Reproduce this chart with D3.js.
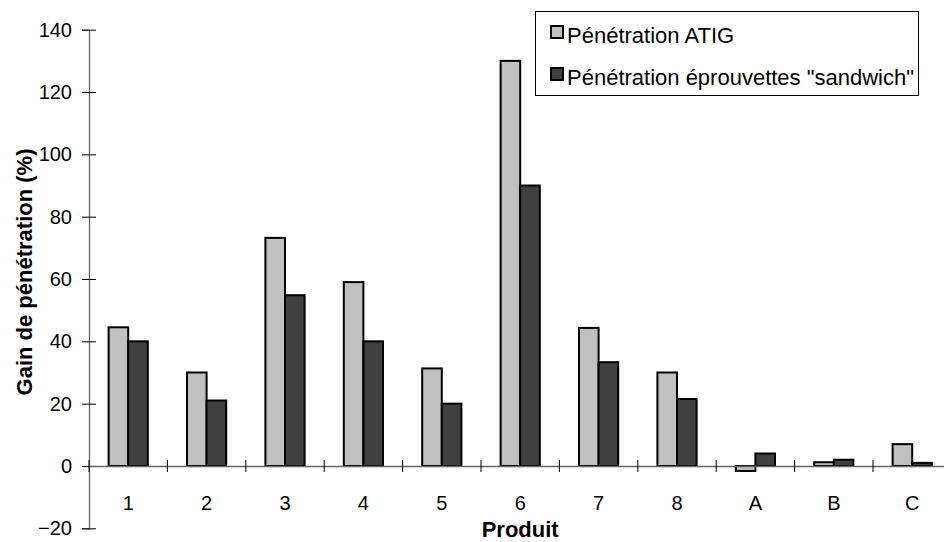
<!DOCTYPE html>
<html>
<head>
<meta charset="utf-8">
<script src="https://cdn.jsdelivr.net/npm/d3@7"></script>
<style>
  html, body { margin: 0; padding: 0; background: #fff; }
  svg { display: block; font-family: "Liberation Sans", Arial, sans-serif; }
</style>
</head>
<body>
<svg id="chart" width="944" height="542"></svg>
<script>
// Produits testés et gains de pénétration (%)
const categories = ["1", "2", "3", "4", "5", "6", "7", "8", "A", "B", "C"];
const atig = [44.5, 30, 73.2, 59, 31.3, 130, 44.3, 30, -1.6, 1.2, 7];
const sandwich = [40, 21, 54.8, 40, 20, 90, 33.3, 21.5, 4, 2, 1];
const seriesNames = ["Pénétration ATIG", "Pénétration éprouvettes \"sandwich\""];
const seriesColors = ["#c0c0c0", "#404040"];
const yTicks = [-20, 0, 20, 40, 60, 80, 100, 120, 140];

const svg = d3.select("#chart");

const plot = { left: 89, right: 951.4, top: 29.7, bottom: 528.3 };

const y = d3.scaleLinear().domain([-20, 140]).range([plot.bottom, plot.top]);
const x = d3.scaleBand().domain(categories).range([plot.left, plot.right])
  .paddingInner(0).paddingOuter(0);
const bw = x.bandwidth();
const inner = d3.scaleBand().domain([0, 1]).range([bw / 4, bw * 3 / 4]);

const series = [atig, sandwich];

// Bars
series.forEach((vals, si) => {
  svg.append("g")
    .selectAll("rect")
    .data(categories.map((c, i) => ({ c, v: vals[i] })))
    .join("rect")
    .attr("x", d => x(d.c) + inner(si))
    .attr("width", inner.bandwidth())
    .attr("y", d => y(Math.max(0, d.v)))
    .attr("height", d => Math.abs(y(d.v) - y(0)))
    .attr("fill", seriesColors[si])
    .attr("stroke", "#000")
    .attr("stroke-width", 2);
});

// Y axis
const yAxis = svg.append("g")
  .attr("transform", `translate(${plot.left},0)`)
  .call(d3.axisLeft(y).tickValues(yTicks).tickSize(7).tickPadding(10));
yAxis.select(".domain").attr("stroke", "#666").attr("stroke-width", 1.3);
yAxis.selectAll(".tick line").attr("x1", 7).attr("x2", -7).attr("stroke", "#000");
yAxis.selectAll(".tick text")
  .attr("font-size", 20)
  .attr("font-family", "Liberation Sans, Arial, sans-serif")
  .attr("fill", "#000")
  .attr("x", -17);

// X axis at zero
const xAxis = svg.append("g")
  .attr("transform", `translate(0,${y(0)})`)
  .call(d3.axisBottom(x).tickSize(0).tickPadding(0));
xAxis.select(".domain").attr("stroke", "#666").attr("stroke-width", 1.3);
xAxis.selectAll(".tick text")
  .attr("font-size", 20)
  .attr("font-family", "Liberation Sans, Arial, sans-serif")
  .attr("fill", "#000")
  .attr("dy", null)
  .attr("y", 44);

// Tick marks at category boundaries
const bounds = categories.map(c => x(c));
xAxis.append("g")
  .selectAll("line")
  .data(bounds)
  .join("line")
  .attr("x1", d => d).attr("x2", d => d)
  .attr("y1", -6).attr("y2", 6)
  .attr("stroke", "#000")
  .attr("stroke-width", 1);

// Axis titles
svg.append("text")
  .attr("transform", `translate(32,${(plot.top + plot.bottom) / 2 - 7}) rotate(-90)`)
  .attr("text-anchor", "middle")
  .attr("font-size", 22)
  .attr("font-weight", "bold")
  .text("Gain de pénétration (%)");

svg.append("text")
  .attr("x", (plot.left + plot.right) / 2)
  .attr("y", 537)
  .attr("text-anchor", "middle")
  .attr("font-size", 22)
  .attr("font-weight", "bold")
  .text("Produit");

// Legend
const legend = svg.append("g");
legend.append("rect")
  .attr("x", 535.5).attr("y", 11.5)
  .attr("width", 383).attr("height", 84)
  .attr("fill", "#fff").attr("stroke", "#000").attr("stroke-width", 1);
seriesNames.forEach((name, i) => {
  const cy = 32 + i * 42;
  legend.append("rect")
    .attr("x", 551).attr("y", cy - 6)
    .attr("width", 12).attr("height", 12)
    .attr("fill", seriesColors[i]).attr("stroke", "#000").attr("stroke-width", 2);
  legend.append("text")
    .attr("x", 567)
    .attr("y", 43 + i * 42)
    .attr("font-size", 22)
    .text(name);
});
</script>
</body>
</html>
